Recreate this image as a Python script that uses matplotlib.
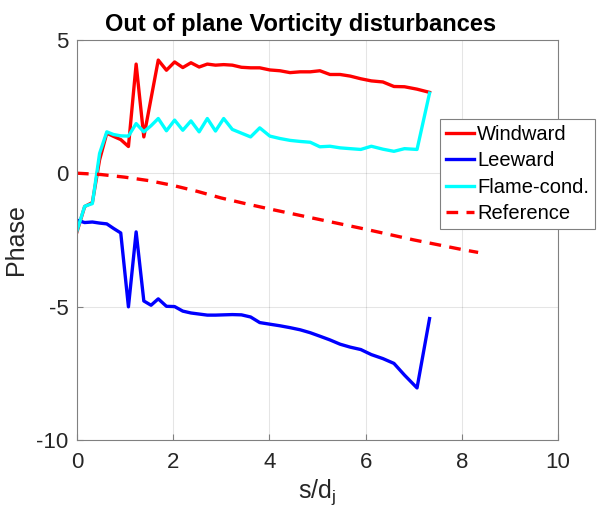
import matplotlib.pyplot as plt

# streamwise coordinate along the jet trajectory
s = [0, 0.16, 0.32, 0.47, 0.62, 0.76, 0.91, 1.07, 1.23, 1.39,
     1.54, 1.69, 1.86, 2.03, 2.20, 2.37, 2.54, 2.71, 2.88, 3.05,
     3.23, 3.42, 3.61, 3.80, 4.01, 4.22, 4.43, 4.64, 4.85, 5.05,
     5.26, 5.47, 5.68, 5.90, 6.12, 6.36, 6.59, 6.81, 7.07, 7.33]

windward = [-2.2, -1.25, -1.1, 0.5, 1.5, 1.38, 1.26, 1.0, 4.09, 1.36,
            2.8, 4.24, 3.86, 4.17, 3.96, 4.14, 3.98, 4.09, 4.05, 4.07,
            4.05, 3.97, 3.95, 3.95, 3.87, 3.84, 3.77, 3.80, 3.80, 3.84,
            3.70, 3.70, 3.64, 3.54, 3.46, 3.42, 3.25, 3.24, 3.15, 3.03]

leeward = [-1.76, -1.85, -1.83, -1.87, -1.90, -2.07, -2.24, -5.01, -2.2, -4.79,
           -4.95, -4.71, -4.99, -5.0, -5.17, -5.24, -5.28, -5.32, -5.32, -5.31,
           -5.30, -5.31, -5.39, -5.60, -5.66, -5.72, -5.79, -5.87, -5.98, -6.11,
           -6.25, -6.41, -6.52, -6.61, -6.80, -6.95, -7.13, -7.57, -8.05, -5.45]

flame = [-2.16, -1.24, -1.14, 0.74, 1.55, 1.45, 1.40, 1.39, 1.86, 1.55,
         1.78, 2.05, 1.59, 1.99, 1.61, 1.96, 1.55, 2.05, 1.58, 2.05,
         1.64, 1.50, 1.36, 1.70, 1.39, 1.30, 1.23, 1.19, 1.16, 0.99,
         1.01, 0.95, 0.92, 0.89, 1.01, 0.90, 0.82, 0.92, 0.89, 3.0]

s_ref = [0, 0.5, 1.0, 1.5, 2.0, 2.5, 3.0, 3.5, 4.0, 4.5,
         5.0, 5.5, 6.0, 6.5, 7.0, 7.5, 8.0, 8.34]
phase_ref = [0, -0.05, -0.15, -0.28, -0.46, -0.68, -0.93, -1.14, -1.34, -1.53,
             -1.72, -1.91, -2.10, -2.30, -2.50, -2.68, -2.86, -2.97]

plt.rcParams['font.family'] = ['Liberation Sans', 'DejaVu Sans']
plt.rcParams['axes.unicode_minus'] = False

fig = plt.figure(figsize=(5.99, 5.17), dpi=100)
ax = fig.add_axes([0.1285, 0.149, 0.803, 0.774])

lw = 2.4
ax.plot(s, windward, color='#ff0000', lw=lw, label='Windward')
ax.plot(s, leeward, color='#0000ff', lw=lw, label='Leeward')
ax.plot(s, flame, color='#00ffff', lw=lw, label='Flame-cond.')
ax.plot(s_ref, phase_ref, color='#ff0000', lw=lw, ls=(0, (3.5, 2.5)), label='Reference')

ax.set_xlim(0, 10)
ax.set_ylim(-10, 5)
ax.set_xticks([0, 2, 4, 6, 8, 10])
ax.set_yticks([-10, -5, 0, 5])
ax.grid(True, color='#000000', alpha=0.1, lw=0.8)
ax.tick_params(direction='in', length=4, color='#808080', labelsize=16,
               labelcolor='#262626')
ax.tick_params(axis='x', pad=9)
ax.tick_params(axis='y', pad=6)
for sp in ax.spines.values():
    sp.set_color('#808080')
    sp.set_linewidth(0.8)

ax.set_xlabel('s/d$_\\mathregular{j}$', fontsize=18, color='#262626', labelpad=3)
ax.set_ylabel('Phase', fontsize=18, color='#262626', labelpad=6)
ax.set_title('Out of plane Vorticity disturbances', fontsize=17, fontweight='bold',
             pad=6, x=0.464)

leg = ax.legend(loc='upper left', bbox_to_anchor=(440 / 599, 1 - 119 / 517),
                bbox_transform=fig.transFigure, fontsize=14.5, handlelength=1.4,
                handletextpad=0.15, labelspacing=0.37, borderaxespad=0,
                borderpad=0.3, fancybox=False, framealpha=1)
leg.get_frame().set_edgecolor('#808080')
leg.get_frame().set_linewidth(0.8)

fig.savefig('out.png', dpi=100)
